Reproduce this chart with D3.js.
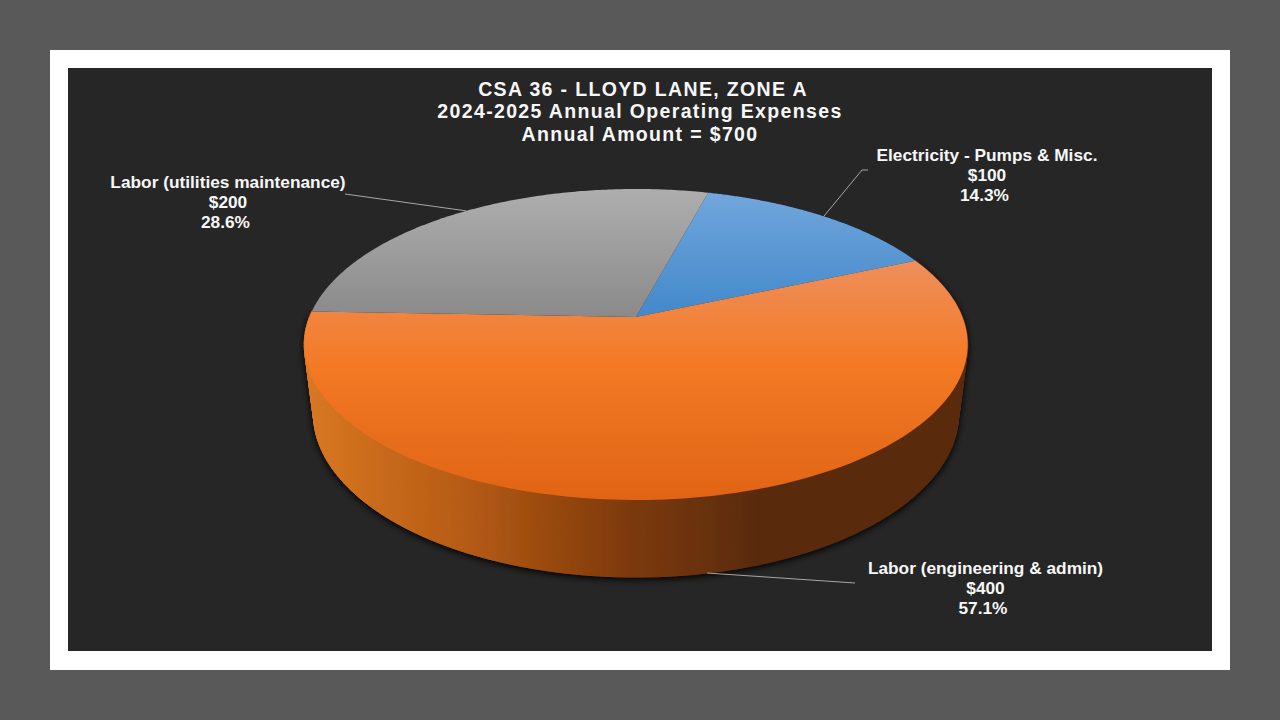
<!DOCTYPE html>
<html><head><meta charset="utf-8">
<script src="https://cdn.jsdelivr.net/npm/d3@7"></script>
<style>html,body{margin:0;padding:0;background:#595959}svg{display:block}
text{font-family:"Liberation Sans",Arial,sans-serif;font-weight:700;fill:#f7f7f7;text-anchor:middle}</style>
</head><body><svg id="c" width="1280" height="720"></svg>
<script>
const titleLines = ["CSA 36 - LLOYD LANE, ZONE A","2024-2025 Annual Operating Expenses","Annual Amount = $700"];
const titleX = [643,640,640];
const categories = ["Electricity - Pumps & Misc.","Labor (engineering & admin)","Labor (utilities maintenance)"];
const amounts = [100,400,200];
const percents = ["14.3%","57.1%","28.6%"];
const topStops = [
  [["0%","#71a6dc"],["100%","#4288ca"]],
  [["0%","#ee8f5c"],["42%","#f47a26"],["100%","#e06414"]],
  [["0%","#aeaeae"],["100%","#8a8a8a"]]
];
const sideStops = [["0%","#da7822"],["25%","#b45a14"],["48%","#7f3a0c"],["68%","#5a2b0b"],["100%","#5a2b0b"]];
const labelBoxes = [[987,161],[985.5,574],[228,188]];
const labelLineShift = [0,0,-2.5];
const elbows = [[[862,170],[868,170]],[[855,583]],[[345,194]]];

const svg = d3.select("#c");
const defs = svg.append("defs");
const CX=636, K=326.5, Y0=317, B=94.6, C=-0.1768, E=0.0277, F=79.4;
// perspective projection of the unit disc, top (h=0) and bottom (h=1) rim
const project=(a,h)=>{const x=Math.sin(a),y=-Math.cos(a),w=1+C*y+h*E;
  return [CX+K*x/w,(Y0+B*y+h*F)/w];};
const pie=d3.pie().sort(null).startAngle(15*Math.PI/180).endAngle(375*Math.PI/180);
const arcs=pie(amounts);
const line=d3.line();
const samples=(a0,a1,n=160)=>d3.range(n+1).map(i=>a0+(a1-a0)*i/n);

const bg=svg.append("g");
bg.append("rect").attr("width",1280).attr("height",720).attr("fill","#595959");
bg.append("rect").attr("x",50).attr("y",50).attr("width",1180).attr("height",620).attr("fill","#fff");
bg.append("rect").attr("x",68).attr("y",68).attr("width",1144).attr("height",583).attr("fill","#262626");

topStops.forEach((st,i)=>{
  const g=defs.append("linearGradient").attr("id","top"+i).attr("x1",0).attr("y1",0).attr("x2",0).attr("y2",1);
  st.forEach(s=>g.append("stop").attr("offset",s[0]).attr("stop-color",s[1]));
});
const sg=defs.append("linearGradient").attr("id","side").attr("gradientUnits","userSpaceOnUse")
  .attr("x1",305).attr("y1",0).attr("x2",968).attr("y2",0);
sideStops.forEach(s=>sg.append("stop").attr("offset",s[0]).attr("stop-color",s[1]));
const f=defs.append("filter").attr("id","sh").attr("x","-10%").attr("y","-10%").attr("width","120%").attr("height","125%");
f.append("feDropShadow").attr("dx",0).attr("dy",2).attr("stdDeviation",3.5).attr("flood-color","#000").attr("flood-opacity",1);

// rim wall: one quad per angular step (back-facing quads are covered by the top face)
const wall=svg.append("g").attr("filter","url(#sh)");
arcs.filter(d=>d.index===1).forEach(d=>{
  const ts=samples(d.startAngle,d.endAngle);
  wall.selectAll("path").data(d3.pairs(ts)).join("path")
    .attr("d",([a,b])=>line([project(a,0),project(b,0),project(b,1),project(a,1)])+"Z")
    .attr("fill","url(#side)").attr("stroke","url(#side)").attr("stroke-width",1);
});

// top faces
svg.append("g").selectAll("path").data(arcs).join("path")
  .attr("d",d=>line([[CX,Y0]].concat(samples(d.startAngle,d.endAngle).map(a=>project(a,0))))+"Z")
  .attr("fill",d=>`url(#top${d.index})`);

// leader lines
svg.append("g").selectAll("path").data(arcs).join("path")
  .attr("d",d=>{const mid=(d.startAngle+d.endAngle)/2;
    return line([project(mid,d.index===1?1:0)].concat(elbows[d.index]));})
  .attr("fill","none").attr("stroke","#a6a6a6").attr("stroke-width",1);

// labels
const lab=svg.append("g").selectAll("text").data(arcs).join("text")
  .attr("font-size",17.3);
lab.each(function(d){
  const [x,y]=labelBoxes[d.index];
  const lines=[categories[d.index],"$"+amounts[d.index],percents[d.index]];
  d3.select(this).selectAll("tspan").data(lines).join("tspan")
    .attr("x",(l,i)=>x+labelLineShift[i]).attr("y",(l,i)=>y+i*20).text(l=>l);
});

// title
svg.append("g").selectAll("text").data(titleLines).join("text")
  .attr("x",(d,i)=>titleX[i]).attr("y",(d,i)=>95.5+i*22.7).attr("font-size",19.5)
  .attr("letter-spacing",1.35).text(d=>d);
</script></body></html>
